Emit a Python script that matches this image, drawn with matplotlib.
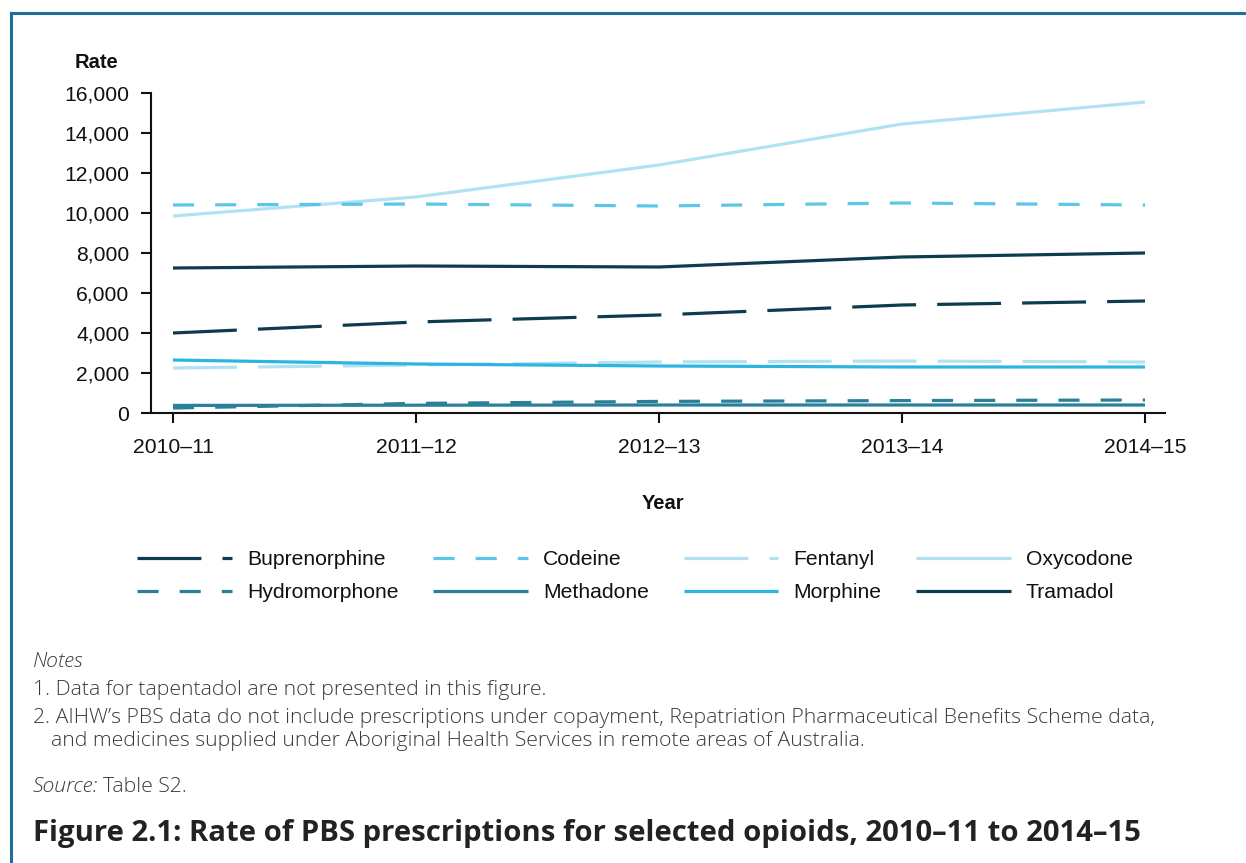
import matplotlib
matplotlib.use("Agg")
import matplotlib.pyplot as plt
from matplotlib.lines import Line2D

years = ["2010–11", "2011–12", "2012–13", "2013–14", "2014–15"]
buprenorphine = [4000, 4550, 4900, 5400, 5600]
codeine = [10400, 10450, 10350, 10500, 10400]
fentanyl = [2250, 2400, 2550, 2600, 2550]
oxycodone = [9850, 10800, 12400, 14450, 15550]
hydromorphone = [250, 480, 580, 620, 650]
methadone = [380, 390, 400, 400, 400]
morphine = [2650, 2450, 2350, 2300, 2300]
tramadol = [7250, 7350, 7300, 7800, 8000]

W, H = 1246, 863
fig = plt.figure(figsize=(W / 100, H / 100), dpi=100)
fig.patch.set_facecolor("white")

sans = ["Liberation Sans", "DejaVu Sans"]
notef = ["Open Sans", "DejaVu Sans"]

# border (top and left)
border_c = "#1f6f9a"
fig.add_artist(Line2D([10.5 / W, 10.5 / W], [0, 1 - 13.5 / H], transform=fig.transFigure, color=border_c, lw=2.2))
fig.add_artist(Line2D([10.5 / W, 1], [1 - 13.5 / H, 1 - 13.5 / H], transform=fig.transFigure, color=border_c, lw=2.2))

ax = fig.add_axes([151 / W, 1 - 413 / H, (1165 - 151) / W, (413 - 93) / H])
x = list(range(len(years)))

LW = 2.3
dark = "#0d3b4f"
teal = "#2a7f99"
mid = "#5bc6e8"
light = "#b2e1f3"
morph = "#2bb5e0"

long_dash = (0, (20.0, 6.6))
short_dash = (0, (6.6, 6.6))

series = [
    ("Oxycodone", oxycodone, light, "-"),
    ("Fentanyl", fentanyl, light, long_dash),
    ("Codeine", codeine, mid, short_dash),
    ("Morphine", morphine, morph, "-"),
    ("Methadone", methadone, teal, "-"),
    ("Hydromorphone", hydromorphone, teal, short_dash),
    ("Tramadol", tramadol, dark, "-"),
    ("Buprenorphine", buprenorphine, dark, long_dash),
]
handles = {}
for name, vals, col, ls in series:
    (ln,) = ax.plot(x, vals, color=col, lw=LW, linestyle=ls, label=name, solid_capstyle="butt")
    handles[name] = ln

ax.set_xlim(-22 / 243, (1165 - 173) / 243)
ax.set_ylim(0, 16000)
ax.set_xticks(x)
ax.set_xticklabels(years)
ax.set_yticks(range(0, 16001, 2000))
ax.set_yticklabels([f"{v:,}" for v in range(0, 16001, 2000)])
for s in ["top", "right"]:
    ax.spines[s].set_visible(False)
for s in ["left", "bottom"]:
    ax.spines[s].set_linewidth(1.5)
    ax.spines[s].set_color("#111111")
ax.tick_params(axis="both", direction="out", length=7.5, width=1.5, color="#111111", labelsize=15.2)
ax.tick_params(axis="y", pad=8)
ax.tick_params(axis="x", pad=10.5)
for lab in ax.get_xticklabels() + ax.get_yticklabels():
    lab.set_family(sans)
    lab.set_color("#111111")

fig.text(96 / W, 1 - 62 / H, "Rate", ha="center", va="center", fontsize=14.5, fontweight="bold", family=sans, color="#111111")
fig.text(663 / W, 1 - 503 / H, "Year", ha="center", va="center", fontsize=14.5, fontweight="bold", family=sans, color="#111111")

order = ["Buprenorphine", "Hydromorphone", "Codeine", "Methadone", "Fentanyl", "Morphine", "Oxycodone", "Tramadol"]
leg = fig.legend([handles[n] for n in order], order, ncol=4, loc="upper left",
                 bbox_to_anchor=(118 / W, 1 - 531 / H), frameon=False,
                 prop={"family": sans, "size": 15.2}, handlelength=4.48, handletextpad=0.72,
                 columnspacing=1.65, labelspacing=0.68)
for t in leg.get_texts():
    t.set_color("#111111")

gray = "#3a3a3a"
fs = 15.35
fig.text(33 / W, 1 - 662 / H, "Notes", ha="left", va="center", fontsize=fs, style="italic", family=notef, color=gray, fontweight="light")
fig.text(33 / W, 1 - 690 / H, "1. Data for tapentadol are not presented in this figure.", ha="left", va="center", fontsize=fs, family=notef, color=gray, fontweight="light")
fig.text(33 / W, 1 - 718 / H, "2. AIHW’s PBS data do not include prescriptions under copayment, Repatriation Pharmaceutical Benefits Scheme data,", ha="left", va="center", fontsize=fs, family=notef, color=gray, fontweight="light")
fig.text(51 / W, 1 - 741 / H, "and medicines supplied under Aboriginal Health Services in remote areas of Australia.", ha="left", va="center", fontsize=fs, family=notef, color=gray, fontweight="light")
t1 = fig.text(33 / W, 1 - 787 / H, "Source:", ha="left", va="center", fontsize=fs, style="italic", family=notef, color=gray, fontweight="light")
fig.canvas.draw()
bb = t1.get_window_extent()
fig.text((bb.x1 + 5) / W, 1 - 787 / H, "Table S2.", ha="left", va="center", fontsize=fs, family=notef, color=gray, fontweight="light")

fig.text(33 / W, 1 - 833 / H, "Figure 2.1: Rate of PBS prescriptions for selected opioids, 2010–11 to 2014–15",
         ha="left", va="center", fontsize=21.1, fontweight="bold", family=notef, color="#222222")

fig.savefig("out.png", dpi=100)
